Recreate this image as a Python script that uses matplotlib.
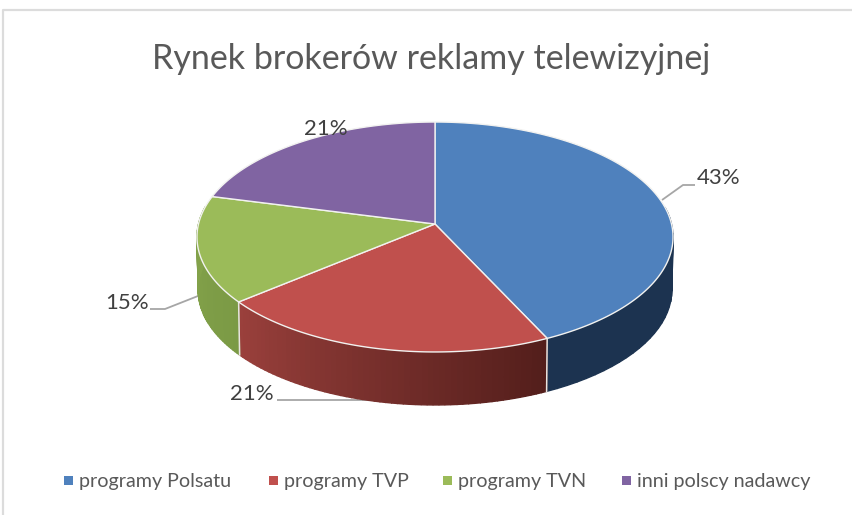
import numpy as np
import matplotlib
matplotlib.use("Agg")
import matplotlib.pyplot as plt
from matplotlib.colors import to_rgb

title = "Rynek brokerów reklamy telewizyjnej"
categories = ["programy Polsatu", "programy TVP", "programy TVN", "inni polscy nadawcy"]
shares = [43, 21, 15, 21]

top_colors = ["#4f81bd", "#c0504d", "#9bbb59", "#8064a2"]
side_left = ["#1c3350", "#9a403c", "#86a54c", "#4d3c62"]
side_right = ["#1c3350", "#531e1b", "#7b9a45", "#4d3c62"]

TEXT = "#595959"
LABEL = "#404040"
plt.rcParams["font.family"] = ["Lato", "DejaVu Sans"]

# the pie is a tilted circle, so the centre sits above the middle of the ellipse
CX, CY = 435, 224
A, B, K = 236.5, 113.5, 0.113
DEPTH = 53


def project(theta, r=1.0, drop=0):
    # theta is clockwise from the top of the pie, in radians
    u = r * np.sin(theta)
    v = r * np.cos(theta)
    w = 1 + K * v
    shrink = 1 - 0.005 * drop / DEPTH
    return CX + shrink * A * u / w, CY - B * v / w + drop


fig = plt.figure(figsize=(8.53, 5.15), dpi=100)
ax = fig.add_axes([0, 0, 1, 1])
ax.set_xlim(0, 853)
ax.set_ylim(515, 0)
ax.axis("off")

# chart frame
ax.plot([3.5, 3.5, 851], [515, 9.5, 9.5], color="#dcdcdc", lw=1.6, zorder=1)

edges = np.radians(np.cumsum([0] + shares) * 3.6)

# side wall, drawn as thin strips so it can carry the gradient
for i in range(len(shares)):
    steps = np.linspace(edges[i], edges[i + 1], 60)
    for j, (t0, t1) in enumerate(zip(steps[:-1], steps[1:])):
        if np.cos(t0) > 0.15 and np.cos(t1) > 0.15:
            continue
        f = j / 58
        col = (1 - f) * np.array(to_rgb(side_right[i])) + f * np.array(to_rgb(side_left[i]))
        x0, y0 = project(t0)
        x1, y1 = project(t1)
        x2, y2 = project(t1, drop=DEPTH)
        x3, y3 = project(t0, drop=DEPTH)
        ax.fill([x0, x1, x2, x3], [y0, y1, y2, y3], color=col, lw=1.0, zorder=2)

# separators on the wall
for t in edges[1:3]:
    x0, y0 = project(t)
    x1, y1 = project(t, drop=DEPTH)
    ax.plot([x0, x1], [y0, y1], color="#e8e4e0", lw=1.1, zorder=3)

# top faces
for i in range(len(shares)):
    t = np.linspace(edges[i], edges[i + 1], 200)
    x, y = project(t)
    ax.fill(np.r_[CX, x], np.r_[CY, y], facecolor=top_colors[i],
            edgecolor="#f2f2f0", lw=1.0, zorder=4)

# leader lines
leaders = [([662, 683, 695], [200, 185, 185]),
           ([277, 379], [400, 400]),
           ([198, 165, 150], [296, 309, 309])]
for lx, ly in leaders:
    ax.plot(lx, ly, color="#a6a6a6", lw=1.3, zorder=1.5, solid_capstyle="butt")

# data labels
label_pos = [(719, 178), (252, 394), (127, 303), (326, 129)]
for share, (x, y) in zip(shares, label_pos):
    ax.text(x, y, f"{share}%", fontsize=16, color=LABEL, ha="center", va="center", zorder=5)

ax.text(431, 59, title, fontsize=24.5, color=TEXT, ha="center", va="center")

# legend
marker_x = [64, 269, 443, 622]
for name, color, x in zip(categories, top_colors, marker_x):
    ax.fill([x, x + 9, x + 9, x], [475.5, 475.5, 484.5, 484.5], color=color, lw=0)
    ax.text(x + 15, 481, name, fontsize=14.2, color=TEXT, ha="left", va="center")

fig.savefig("out.png", dpi=100, facecolor="white")
